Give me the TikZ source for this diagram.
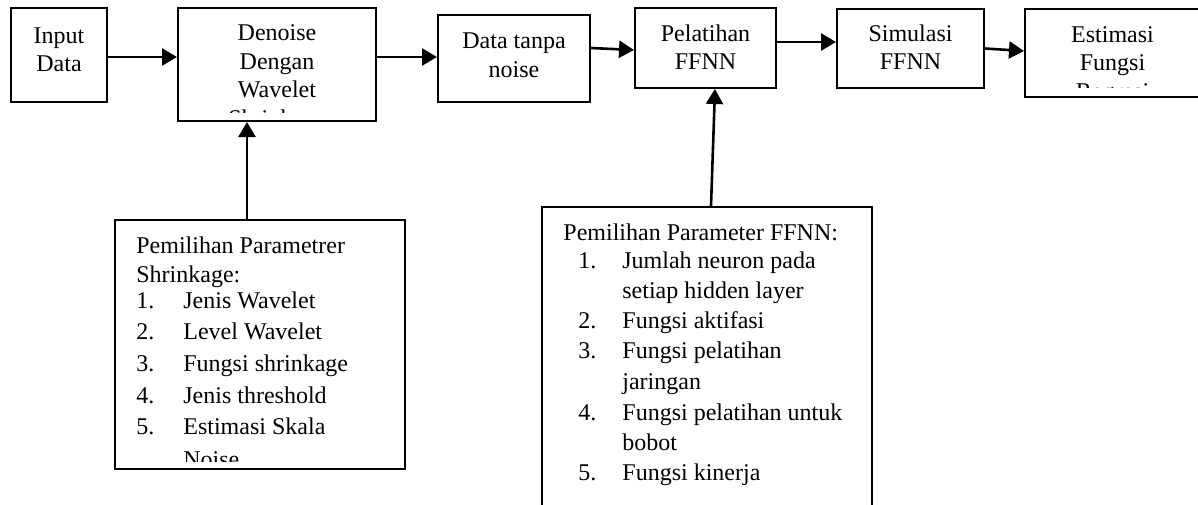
\documentclass[tikz,border=0pt]{standalone}
\usepackage{fontspec}
\setmainfont{Liberation Serif}
\usetikzlibrary{arrows.meta}

\begin{document}
\begin{tikzpicture}[x=0.5pt,y=-0.5pt,
    kotak/.style={draw,line width=1pt,inner sep=0pt},
    teks/.style={inner sep=0pt,align=center,anchor=north,
        font=\fontsize{12}{14.2}\selectfont},
    butir/.style={inner sep=0pt,anchor=base west,
        font=\fontsize{12}{14.2}\selectfont},
    panah/.style={line width=1.3pt,-{Triangle[length=7.5pt,width=8.5pt]}}]

    \useasboundingbox (0,0) rectangle (1198,504);

    % Kotak alur utama
    \node[kotak,minimum width=48pt,minimum height=47pt] (input) at (59,55) {};
    \node[kotak,minimum width=99pt,minimum height=56.5pt] (denoise) at (277,64.5) {};
    \node[kotak,minimum width=76pt,minimum height=43.5pt] (tanpa) at (514,58.5) {};
    \node[kotak,minimum width=70.5pt,minimum height=40pt] (latih) at (705.5,48) {};
    \node[kotak,minimum width=73.5pt,minimum height=39.5pt] (simul) at (910.5,48.5) {};
    \node[kotak,minimum width=87.5pt,minimum height=44pt] (estim) at (1112.5,53) {};

    % Teks di dalam kotak
    \node[teks] (inputteks) at ([yshift=-10pt]input.north) {Input\\Data};
    \begin{scope}
        \clip (denoise.north west) rectangle ([yshift=5pt]denoise.south east);
        \node[teks] (denoiseteks) at ([yshift=-8.8pt]denoise.north)
            {Denoise\\Dengan\\Wavelet\\Shrinkage};
    \end{scope}
    \node[teks] (tanpateks) at ([yshift=-9.3pt]tanpa.north) {Data tanpa\\noise};
    \node[teks] (latihteks) at ([yshift=-8.6pt]latih.north) {Pelatihan\\FFNN};
    \node[teks] (simulteks) at ([yshift=-8.1pt]simul.north) {Simulasi\\FFNN};
    \begin{scope}
        \clip (estim.north west) rectangle ([yshift=5.5pt]estim.south east);
        \node[teks] (estimteks) at ([yshift=-9.1pt]estim.north)
            {Estimasi\\Fungsi\\Regresi};
    \end{scope}

    % Parameter shrinkage
    \node[kotak,minimum width=145pt,minimum height=124.5pt] (shrink) at (260,344.5) {};
    \begin{scope}
        \clip (shrink.north west) rectangle ([yshift=4.5pt]shrink.south east);
        \node[butir] (shrinkjudul) at (136,253) {Pemilihan Parametrer};
        \node[butir] (shrinkjudulb) at (136,282) {Shrinkage:};
        \foreach \n/\y in {1/308,2/339,3/371,4/403,5/434}
            \node[butir] (sn\n) at (136,\y) {\n.};
        \foreach \isi/\y [count=\k] in {Jenis Wavelet/308,Level Wavelet/339,
            Fungsi shrinkage/371,Jenis threshold/403,Estimasi Skala/434,Noise/467}
            \node[butir] (si\k) at (183,\y) {\isi};
    \end{scope}

    % Parameter FFNN
    \node[kotak,minimum width=165pt,minimum height=150pt] (ffnn) at (707,357) {};
    \node[butir] (ffnnjudul) at (563,240) {Pemilihan Parameter FFNN:};
    \foreach \n/\y in {1/268,2/328,3/358,4/420,5/480}
        \node[butir] (fn\n) at (578,\y) {\n.};
    \foreach \isi/\y [count=\k] in {Jumlah neuron pada/268,setiap hidden layer/298,
        Fungsi aktifasi/328,Fungsi pelatihan/358,jaringan/389,
        Fungsi pelatihan untuk/420,bobot/450,Fungsi kinerja/480}
        \node[butir] (fi\k) at (622,\y) {\isi};

    % Panah
    \draw[panah] ([yshift=-1pt]input.east) -- ([yshift=-1pt]input.east -| denoise.west);
    \draw[panah] ([yshift=0.75pt]tanpa.west -| denoise.east) -- ([yshift=0.75pt]tanpa.west);
    \draw[panah] (tanpa.east |- latih.west) -- ([yshift=-1pt]latih.west);
    \draw[panah] ([yshift=3pt]latih.east) -- ([yshift=3pt]latih.east -| simul.west);
    \draw[panah] (simul.east) -- ([yshift=1pt]estim.west);
    \draw[panah] ([xshift=-6.5pt]shrink.north) -- ([xshift=-6.5pt]shrink.north |- denoise.south);
    \draw[panah] ([xshift=2pt]ffnn.north) -- ([xshift=4.75pt]latih.south);

\end{tikzpicture}
\end{document}
